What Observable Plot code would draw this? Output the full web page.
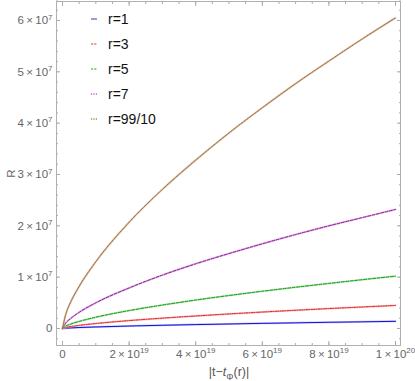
<!DOCTYPE html>
<html>
<head>
<meta charset="utf-8">
<script src="https://cdn.jsdelivr.net/npm/d3@7"></script>
<script src="https://cdn.jsdelivr.net/npm/@observablehq/plot@0.6"></script>
<style>
  html, body { margin: 0; padding: 0; background: #fff; }
  #wrap { position: relative; width: 415px; height: 381px; font-family: "Liberation Sans", Arial, sans-serif; }
  #legend { position: absolute; left: 91px; top: 6px; font-size: 14px; color: #111; }
  #legend div { height: 25px; display: flex; align-items: center; }
  #legend svg { margin-right: 11px; }
  #xlabel { position: absolute; left: 0; width: 458px; text-align: center; top: 365px; font-size: 12.5px; color: #555; }
  #xlabel sub { font-size: 9px; }
</style>
</head>
<body>
<div id="wrap"><div id="legend"></div><div id="xlabel">|t−<i>t</i><sub>Φ</sub>(r)|</div></div>
<script>
// x values
const tValues = [0, 0.1e19, 0.25e19, 0.5e19, 1e19, 2e19, 3e19, 4e19, 5e19, 6e19, 7e19, 8e19, 9e19, 10e19];
// series values (R)
const seriesNames = ["r=1", "r=3", "r=5", "r=7", "r=99/10"];
const r1  = [0, 0.0065e7, 0.012e7, 0.019e7, 0.030e7, 0.048e7, 0.063e7, 0.076e7, 0.088e7, 0.100e7, 0.110e7, 0.121e7, 0.130e7, 0.140e7];
const r3  = [0, 0.021e7, 0.038e7, 0.061e7, 0.097e7, 0.154e7, 0.202e7, 0.244e7, 0.284e7, 0.320e7, 0.355e7, 0.388e7, 0.419e7, 0.450e7];
const r5  = [0, 0.047e7, 0.087e7, 0.138e7, 0.220e7, 0.349e7, 0.457e7, 0.554e7, 0.643e7, 0.726e7, 0.804e7, 0.879e7, 0.951e7, 1.020e7];
const r7  = [0, 0.108e7, 0.198e7, 0.315e7, 0.500e7, 0.790e7, 1.040e7, 1.260e7, 1.460e7, 1.650e7, 1.830e7, 2.000e7, 2.160e7, 2.320e7];
const r99 = [0, 0.280e7, 0.520e7, 0.820e7, 1.300e7, 2.070e7, 2.710e7, 3.280e7, 3.810e7, 4.300e7, 4.770e7, 5.210e7, 5.640e7, 6.050e7];
const seriesValues = [r1, r3, r5, r7, r99];

const xMajor = [0, 2e19, 4e19, 6e19, 8e19, 1e20];
const xMajorLabels = ["0", "2×10^19", "4×10^19", "6×10^19", "8×10^19", "1×10^20"];
const yMajor = [0, 1e7, 2e7, 3e7, 4e7, 5e7, 6e7];
const yMajorLabels = ["0", "1×10^7", "2×10^7", "3×10^7", "4×10^7", "5×10^7", "6×10^7"];
const xMinor = d3.range(0, 10.01e19, 0.5e19);
const yMinor = d3.range(-0.2e7, 6.41e7, 0.2e7);

const darkColors  = ["#1010e8", "#e01010", "#109a10", "#8e1a9a", "#9c6a3c"];
const lightColors = ["#9b9bd8", "#f59a9a", "#8fd88f", "#d18fd6", "#c9a07a"];
const dashes = [null, "1.2,1.2", "3,1.5", "3,1.5", "1,1"];

const rows = [];
seriesNames.forEach((name, i) => {
  tValues.forEach((t, j) => rows.push({series: name, t, R: seriesValues[i][j]}));
});

const marks = [];
seriesNames.forEach((name, i) => {
  const data = rows.filter(d => d.series === name);
  marks.push(Plot.line(data, {x: "t", y: "R", curve: "monotone-x", stroke: lightColors[i], strokeWidth: 2, strokeOpacity: 0.6}));
  marks.push(Plot.line(data, {x: "t", y: "R", curve: "monotone-x", stroke: darkColors[i], strokeWidth: 1, strokeDasharray: dashes[i]}));
});

const fmtX = d => xMajorLabels[xMajor.indexOf(d)] ?? "";
const fmtY = d => yMajorLabels[yMajor.indexOf(d)] ?? "";
const axisStyle = {stroke: "#aaa", color: "#aaa"};

const chart = Plot.plot({
  width: 415,
  height: 381,
  marginLeft: 56,
  marginRight: 15,
  marginTop: 1,
  marginBottom: 36,
  style: {fontFamily: "Liberation Sans, Arial, sans-serif", fontSize: "11.5px", color: "#666", background: "#fff"},
  x: {domain: [-0.18e19, 10.15e19]},
  y: {domain: [-0.331e7, 6.37e7]},
  marks: [
    Plot.axisX({anchor: "bottom", ticks: xMinor, tickSize: -2, tickFormat: () => "", label: null, ...axisStyle}),
    Plot.axisX({anchor: "top", ticks: xMinor, tickSize: -2, tickFormat: () => "", label: null, ...axisStyle}),
    Plot.axisX({anchor: "bottom", ticks: xMajor, tickSize: -4, tickFormat: () => "", label: null, ...axisStyle}),
    Plot.axisX({anchor: "top", ticks: xMajor, tickSize: -4, tickFormat: () => "", label: null, ...axisStyle}),
    Plot.axisY({anchor: "left", ticks: yMinor, tickSize: -2, tickFormat: () => "", label: null, ...axisStyle}),
    Plot.axisY({anchor: "right", ticks: yMinor, tickSize: -2, tickFormat: () => "", label: null, ...axisStyle}),
    Plot.axisY({anchor: "left", ticks: yMajor, tickSize: -4, tickFormat: () => "", label: null, ...axisStyle}),
    Plot.axisY({anchor: "right", ticks: yMajor, tickSize: -4, tickFormat: () => "", label: null, ...axisStyle}),
    Plot.axisX({anchor: "bottom", ticks: xMajor, tickSize: 0, tickPadding: 4, tickFormat: fmtX, label: null, color: "#666"}),
    Plot.axisY({anchor: "left", ticks: yMajor, tickSize: 0, tickPadding: 4, tickFormat: fmtY, label: "R", labelAnchor: "center", labelArrow: "none", labelOffset: 50, color: "#666"}),
    Plot.frame({stroke: "#b0b0b0"}),
    ...marks
  ]
});
document.getElementById("wrap").prepend(chart);
chart.style.position = "absolute";
chart.style.left = "0";
chart.style.top = "0";

// turn "a×10^b" into real superscripts
chart.querySelectorAll('g[aria-label="x-axis tick label"] text, g[aria-label="y-axis tick label"] text').forEach(t => {
  const s = t.textContent;
  const m = s.match(/^(\d+)×10\^(\d+)$/);
  if (!m) return;
  t.textContent = "";
  const ns = "http://www.w3.org/2000/svg";
  const a = document.createElementNS(ns, "tspan");
  a.textContent = m[1] + "\u2009×\u200910";
  const b = document.createElementNS(ns, "tspan");
  b.textContent = m[2];
  b.setAttribute("font-size", "8px");
  b.setAttribute("dy", "-0.55em");
  t.appendChild(a);
  t.appendChild(b);
});

// legend
const legend = document.getElementById("legend");
seriesNames.forEach((name, i) => {
  const row = document.createElement("div");
  row.innerHTML = `<svg width="6" height="4"><line x1="0" x2="6" y1="2" y2="2" stroke="${lightColors[i]}" stroke-width="2" ${dashes[i] ? `stroke-dasharray="${i >= 3 ? '1.2,1.2' : '2.2,1'}"` : ""}/></svg><span>${name}</span>`;
  legend.appendChild(row);
});
</script>
</body>
</html>
